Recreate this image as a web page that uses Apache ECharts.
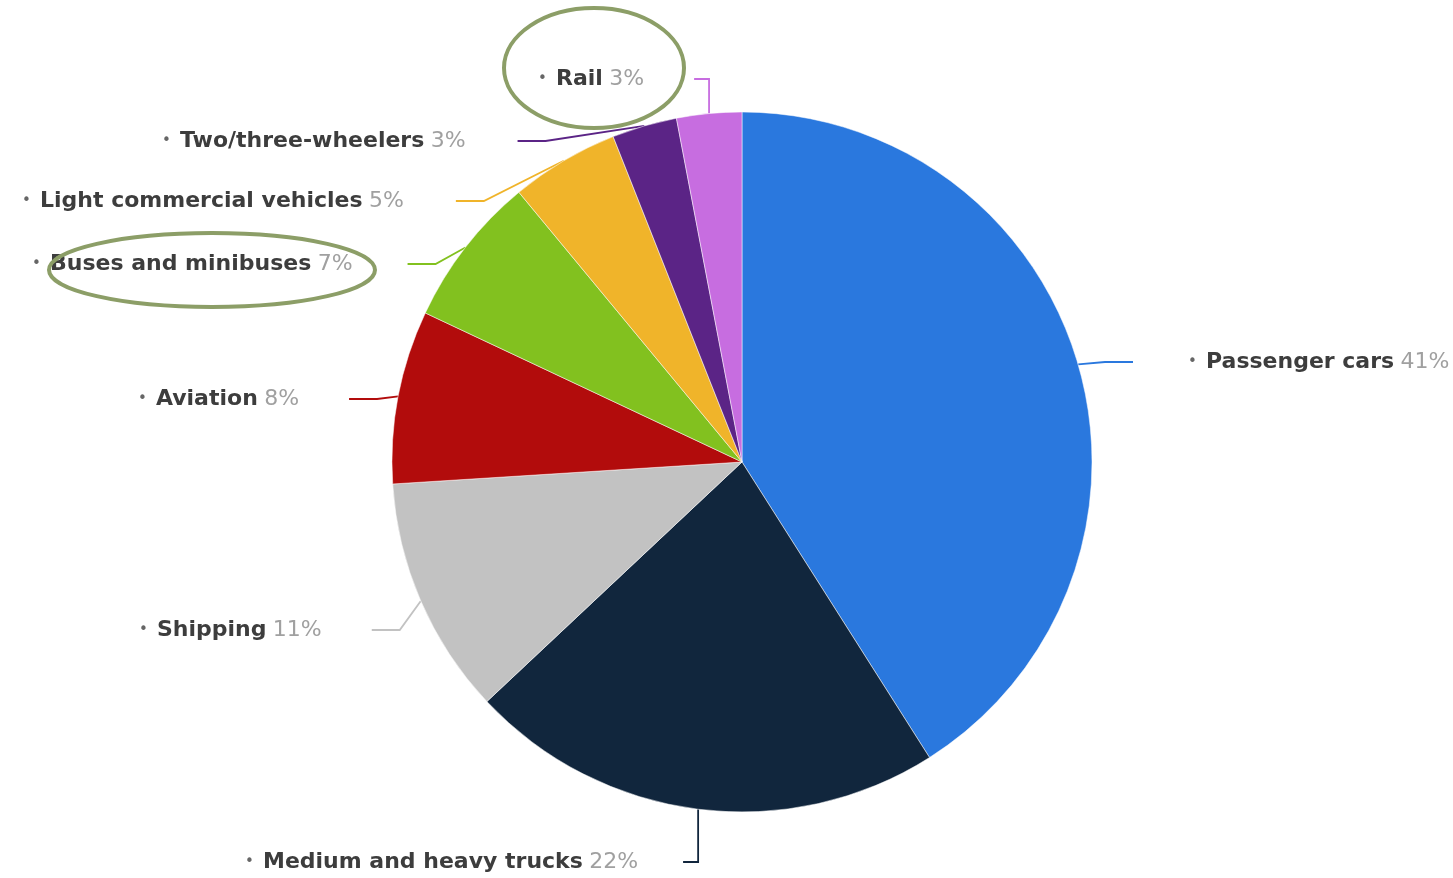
<!DOCTYPE html>
<html>
<head>
<meta charset="utf-8">
<script src="https://cdn.jsdelivr.net/npm/echarts@6/dist/echarts.min.js"></script>
<style>
html,body{margin:0;padding:0;background:#fff;}
#chart{width:1453px;height:878px;}
</style>
</head>
<body>
<div id="chart"></div>
<script>
var categories = ['Passenger cars', 'Medium and heavy trucks', 'Shipping', 'Aviation', 'Buses and minibuses', 'Light commercial vehicles', 'Two/three-wheelers', 'Rail'];
var shares = [41, 22, 11, 8, 7, 5, 3, 3];
var colors = ['#2a78de', '#11263d', '#c2c2c2', '#b20c0c', '#82c11f', '#f0b42a', '#5b2486', '#c76de0'];

// label placement (layout only)
var labelPos = [
  {x: 1133, y: 362, pad: [0, 0, 0, 55]},
  {x: 245, y: 862, pad: [0, 45, 0, 0]},
  {x: 139, y: 630, pad: [0, 50, 0, 0]},
  {x: 138, y: 399, pad: [0, 50, 0, 0]},
  {x: 32, y: 264, pad: [0, 55, 0, 0]},
  {x: 22, y: 201, pad: [0, 52, 0, 0]},
  {x: 162, y: 141, pad: [0, 52, 0, 0]},
  {x: 538, y: 79, pad: [0, 50, 0, 0]}
];

var chart = echarts.init(document.getElementById('chart'), null, {renderer: 'canvas'});
var data = categories.map(function (c, i) {
  return {
    name: c,
    value: shares[i],
    itemStyle: {color: colors[i]},
    label: {padding: labelPos[i].pad},
    labelLine: {lineStyle: {color: colors[i]}}
  };
});

chart.setOption({
  backgroundColor: '#ffffff',
  animation: false,
  series: [{
    type: 'pie',
    center: [742, 462],
    radius: 350,
    startAngle: 90,
    clockwise: true,
    avoidLabelOverlap: false,
    itemStyle: {borderColor: '#ffffff', borderWidth: 0.5},
    data: data,
    label: {
      show: true,
      backgroundColor: 'rgba(255,255,255,0)',
      formatter: function (p) {
        return '{d|•}{n|' + p.name + '}{s| }{p|' + p.value + '%}';
      },
      rich: {
        d: {fontFamily: 'DejaVu Sans', fontSize: 15, color: '#666', width: 18, align: 'left'},
        n: {fontFamily: 'DejaVu Sans', fontSize: 22, fontWeight: 'bold', color: '#3d3d3d'},
        s: {fontFamily: 'DejaVu Sans', fontSize: 20},
        p: {fontFamily: 'DejaVu Sans', fontSize: 22, color: '#a0a0a0'}
      }
    },
    labelLine: {show: true, length: 22, length2: 28, lineStyle: {width: 1.8}},
    labelLayout: function (params) {
      var lp = labelPos[params.dataIndex];
      return {x: lp.x, y: lp.y, align: 'left', verticalAlign: 'middle'};
    }
  }],
  graphic: [
    {type: 'ellipse', shape: {cx: 594, cy: 68, rx: 90, ry: 60}, style: {fill: 'none', stroke: '#8c9e67', lineWidth: 4}, z: 100},
    {type: 'ellipse', shape: {cx: 212, cy: 270, rx: 163, ry: 37}, style: {fill: 'none', stroke: '#8c9e67', lineWidth: 4}, z: 100}
  ]
});
</script>
</body>
</html>
